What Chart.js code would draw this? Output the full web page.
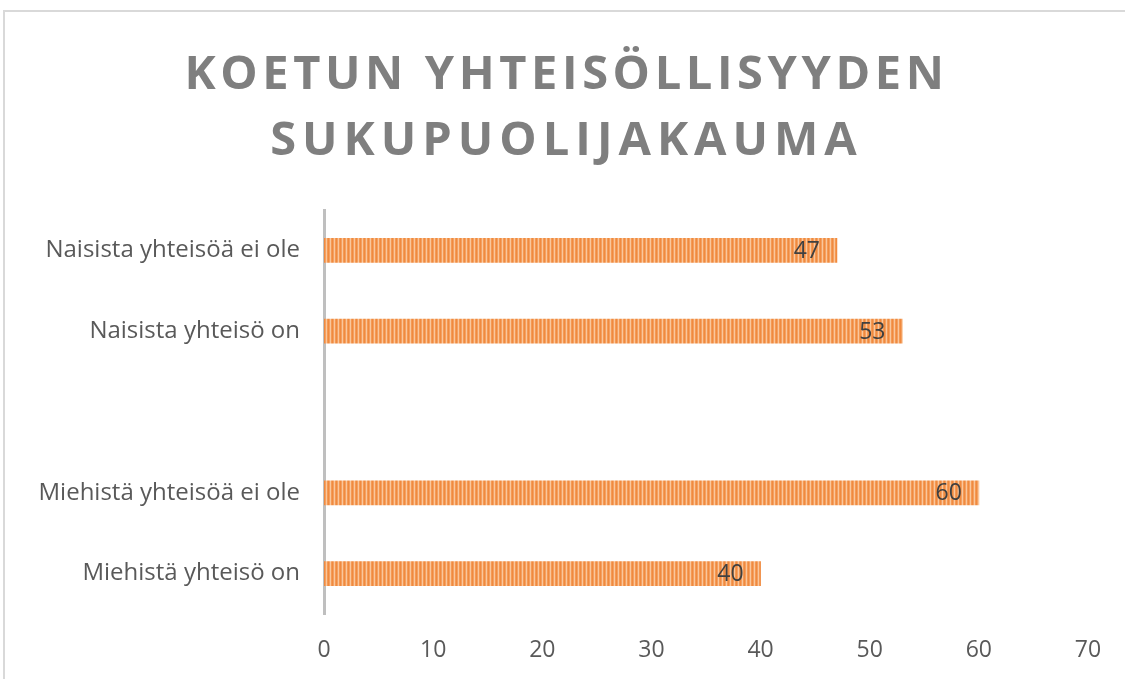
<!DOCTYPE html>
<html>
<head>
<meta charset="utf-8">
<script src="https://cdn.jsdelivr.net/npm/chart.js@4"></script>
<style>
  html, body { margin: 0; padding: 0; background: #fff; }
  #wrap { position: relative; width: 1125px; height: 679px; overflow: hidden; }
  #frame { position: absolute; left: 3px; top: 10px; width: 1200px; height: 700px; border: 2px solid #d9d9d9; box-sizing: border-box; }
  #title { position: absolute; left: 0; top: 38px; width: 1133px; text-align: center;
    font-family: "Open Sans", sans-serif; font-weight: 700; font-size: 47px; line-height: 66px;
    color: #7f7f7f; }
  #title .l1 { letter-spacing: 4.6px; }
  #title .l2 { letter-spacing: 6px; }
  canvas { position: absolute; left: 0; top: 0; }
</style>
</head>
<body>
<div id="wrap">
  <div id="frame"></div>
  <canvas id="chart" width="1125" height="679"></canvas>
  <div id="title"><div class="l1">KOETUN YHTEISÖLLISYYDEN</div><div class="l2">SUKUPUOLIJAKAUMA</div></div>
</div>
<script>
// data
const categories = ['Naisista yhteisöä ei ole', 'Naisista yhteisö on', '', 'Miehistä yhteisöä ei ole', 'Miehistä yhteisö on'];
const values = [47, 53, null, 60, 40];
const xTicks = [0, 10, 20, 30, 40, 50, 60, 70];

const labelFont = '"Open Sans", sans-serif';

// striped orange fill like the original
function stripePattern() {
    const c = document.createElement('canvas');
    c.width = 4; c.height = 4;
    const g = c.getContext('2d');
    const cols = ['#f08a3e', '#f3a062', '#fac79c', '#f49a55'];
    for (let i = 0; i < 4; i++) {
        g.fillStyle = cols[i];
        g.fillRect(i, 0, 1, 4);
    }
    return g.createPattern(c, 'repeat');
}

// value labels inside the bar end
const valueLabels = {
    id: 'valueLabels',
    afterDatasetsDraw(chart) {
        const ctx = chart.ctx;
        const meta = chart.getDatasetMeta(0);
        ctx.save();
        ctx.font = '23px ' + labelFont;
        ctx.fillStyle = '#404040';
        ctx.textAlign = 'right';
        ctx.textBaseline = 'middle';
        meta.data.forEach((bar, i) => {
            if (values[i] == null) return;
            ctx.fillText(String(values[i]), bar.x - 17, bar.y + 1);
        });
        ctx.restore();
    }
};

const ctx = document.getElementById('chart');
new Chart(ctx, {
    type: 'bar',
    data: {
        labels: categories,
        datasets: [{
            data: values,
            backgroundColor: stripePattern(),
            borderWidth: 0,
            barThickness: 24
        }]
    },
    options: {
        indexAxis: 'y',
        responsive: false,
        animation: false,
        layout: { padding: { top: 210, right: 37, left: 0, bottom: 0 } },
        plugins: { legend: { display: false }, tooltip: { enabled: false } },
        scales: {
            x: {
                min: 0, max: 70,
                afterBuildTicks: s => { s.ticks = xTicks.map(v => ({ value: v })); },
                grid: { display: false, drawTicks: false },
                border: { display: false },
                ticks: { color: '#595959', padding: 23, font: { family: labelFont, size: 23 } },
                afterFit: s => { s.height = 65; }
            },
            y: {
                grid: { display: false, drawTicks: false },
                border: { display: true, color: '#bfbfbf', width: 3 },
                ticks: { color: '#595959', padding: 24, font: { family: labelFont, size: 24 } },
                afterFit: s => { s.width = 324; }
            }
        }
    },
    plugins: [valueLabels]
});
</script>
</body>
</html>
